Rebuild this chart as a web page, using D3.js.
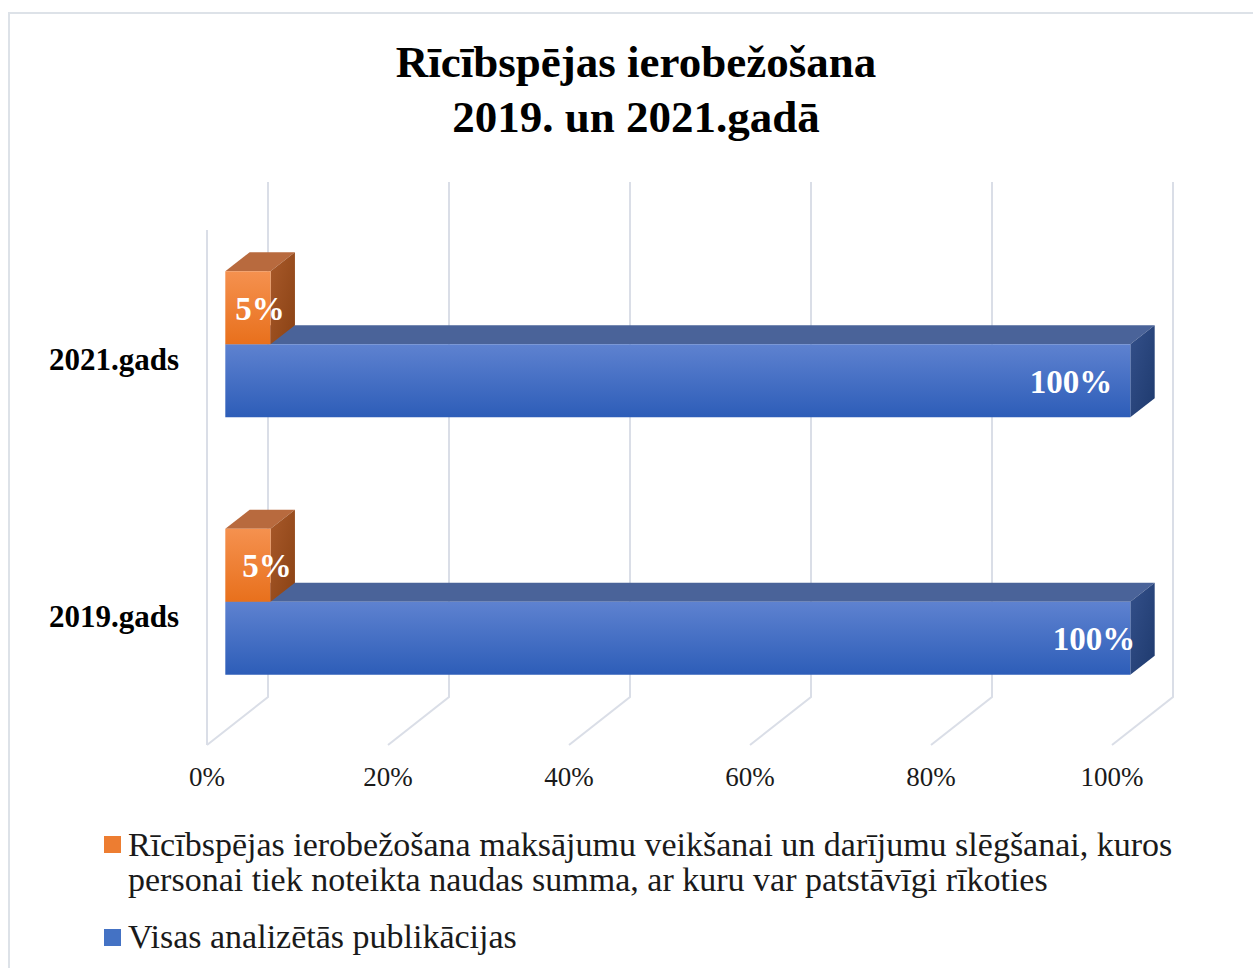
<!DOCTYPE html>
<html>
<head>
<meta charset="utf-8">
<script src="https://cdn.jsdelivr.net/npm/d3@7"></script>
<style>
  html, body { margin: 0; padding: 0; background: #ffffff; }
  svg { display: block; }
</style>
</head>
<body>
<svg id="chart" width="1253" height="968"></svg>
<script>
// ---- data ----
const titleLines = ["Rīcībspējas ierobežošana", "2019. un 2021.gadā"];
const categories = ["2021.gads", "2019.gads"];           // top to bottom
const seriesNames = [
  "Rīcībspējas ierobežošana maksājumu veikšanai un darījumu slēgšanai, kuros personai tiek noteikta naudas summa, ar kuru var patstāvīgi rīkoties",
  "Visas analizētās publikācijas"
];
const restrictedValues = [5, 5];      // orange series, per category
const allValues = [100, 100];         // blue series, per category
const tickValues = [0, 20, 40, 60, 80, 100];
const tickLabels = ["0%", "20%", "40%", "60%", "80%", "100%"];
const legendLines = [
  ["Rīcībspējas ierobežošana maksājumu veikšanai un darījumu slēgšanai, kuros",
   "personai tiek noteikta naudas summa, ar kuru var patstāvīgi rīkoties"],
  ["Visas analizētās publikācijas"]
];

// ---- layout ----
const svg = d3.select("#chart");
const serif = "'Liberation Serif', 'Times New Roman', serif";

// frame border (top and left)
svg.append("path")
  .attr("d", "M9,968 L9,13 L1253,13")
  .attr("fill", "none").attr("stroke", "#dde2e8").attr("stroke-width", 2);

// title
svg.append("g").selectAll("text").data(titleLines).join("text")
  .attr("x", 636).attr("y", (d, i) => 77 + i * 55)
  .attr("text-anchor", "middle")
  .attr("font-family", serif).attr("font-weight", "bold").attr("font-size", 45)
  .attr("fill", "#000").text(d => d);

// 3D geometry
const x = d3.scaleLinear().domain([0, 100]).range([207, 1112]);
const yBand = d3.scaleBand().domain(categories).range([230, 745]);
const depth = { dx: 61, dy: -48 };
const gridTop = 230 + depth.dy;   // back wall top
const floorY = 745;
const barH = 73;
const barDepth0 = 0.3, barDepth1 = 0.7;

const P = (v, y, d) => [x(v) + d * depth.dx, y + d * depth.dy];
const poly = pts => "M" + pts.map(p => p.join(",")).join("L") + "Z";

const grid = svg.append("g").attr("stroke", "#dadee7").attr("stroke-width", 2).attr("fill", "none");
// back wall verticals + floor diagonals
tickValues.forEach(v => {
  const back = P(v, floorY, 1);
  grid.append("path").attr("d", `M${back[0]},${gridTop}L${back[0]},${back[1]}L${x(v)},${floorY}`);
});
// left front vertical edge
grid.append("path").attr("d", `M${x(0)},${230}L${x(0)},${floorY}`);

// tick labels
svg.append("g").selectAll("text").data(tickValues).join("text")
  .attr("x", d => x(d)).attr("y", 786)
  .attr("text-anchor", "middle")
  .attr("font-family", serif).attr("font-size", 27).attr("fill", "#1a1a1a")
  .text((d, i) => tickLabels[i]);

// category labels
svg.append("g").selectAll("text").data(categories).join("text")
  .attr("x", 179).attr("y", d => yBand(d) + yBand.bandwidth() / 2 + 11)
  .attr("text-anchor", "end")
  .attr("font-family", serif).attr("font-weight", "bold").attr("font-size", 31)
  .attr("fill", "#000").text(d => d);

// gradients
const defs = svg.append("defs");
function vgrad(id, c0, c1) {
  const g = defs.append("linearGradient").attr("id", id).attr("x1", 0).attr("y1", 0).attr("x2", 0).attr("y2", 1);
  g.append("stop").attr("offset", "0%").attr("stop-color", c0);
  g.append("stop").attr("offset", "100%").attr("stop-color", c1);
}
function hgrad(id, c0, c1) {
  const g = defs.append("linearGradient").attr("id", id).attr("x1", 0).attr("y1", 0).attr("x2", 1).attr("y2", 1);
  g.append("stop").attr("offset", "0%").attr("stop-color", c0);
  g.append("stop").attr("offset", "100%").attr("stop-color", c1);
}
vgrad("orangeFront", "#f5914f", "#e8701c");
hgrad("orangeSide", "#a8592a", "#8a4214");
vgrad("blueFront", "#5e82d0", "#2d5db8");
hgrad("blueSide", "#34508a", "#1e3a6e");

const series = [
  { key: "all", values: allValues, front: "url(#blueFront)", top: "#4a6399", side: "url(#blueSide)",
    isUpper: false, labelAnchor: "end", labelDx: [-18, 5] },
  { key: "restricted", values: restrictedValues, front: "url(#orangeFront)", top: "#b86a3e", side: "url(#orangeSide)",
    isUpper: true, labelAnchor: "middle", labelDx: [-8, -1] }
];

const bars = svg.append("g");
series.forEach(s => {
  categories.forEach((c, ci) => {
    const v = s.values[ci];
    const cy = yBand(c) + yBand.bandwidth() / 2;   // front-plane category center
    const yT = s.isUpper ? cy - barH : cy;
    const yB = yT + barH;
    const f0 = P(0, yT, barDepth0), f1 = P(v, yT, barDepth0), f2 = P(v, yB, barDepth0), f3 = P(0, yB, barDepth0);
    const b0 = P(0, yT, barDepth1), b1 = P(v, yT, barDepth1), b2 = P(v, yB, barDepth1);
    const g = bars.append("g");
    g.append("path").attr("d", poly([f0, f1, b1, b0])).attr("fill", s.top);     // top face
    g.append("path").attr("d", poly([f1, b1, b2, f2])).attr("fill", s.side);    // side face
    g.append("path").attr("d", poly([f0, f1, f2, f3])).attr("fill", s.front);   // front face
    const lx = s.labelAnchor === "end" ? f1[0] + s.labelDx[ci] : (f0[0] + f1[0]) / 2 + 20 + s.labelDx[ci];
    g.append("text")
      .attr("x", lx).attr("y", (f1[1] + f2[1]) / 2 + 12)
      .attr("text-anchor", s.labelAnchor)
      .attr("font-family", serif).attr("font-weight", "bold").attr("font-size", 33)
      .attr("fill", "#ffffff")
      .text(v + "%");
  });
});

// legend
const legendColors = ["#ed7d31", "#4472c4"];
const legendRows = [{ y: 856, sq: 836 }, { y: 948, sq: 929 }];
const legend = svg.append("g");
legendLines.forEach((lines, i) => {
  legend.append("rect").attr("x", 104).attr("y", legendRows[i].sq).attr("width", 17).attr("height", 17)
    .attr("fill", legendColors[i]);
  legend.append("g").selectAll("text").data(lines).join("text")
    .attr("x", 128).attr("y", (d, j) => legendRows[i].y + j * 35)
    .attr("font-family", serif).attr("font-size", 34).attr("fill", "#1a1a1a")
    .text(d => d);
});
</script>
</body>
</html>
